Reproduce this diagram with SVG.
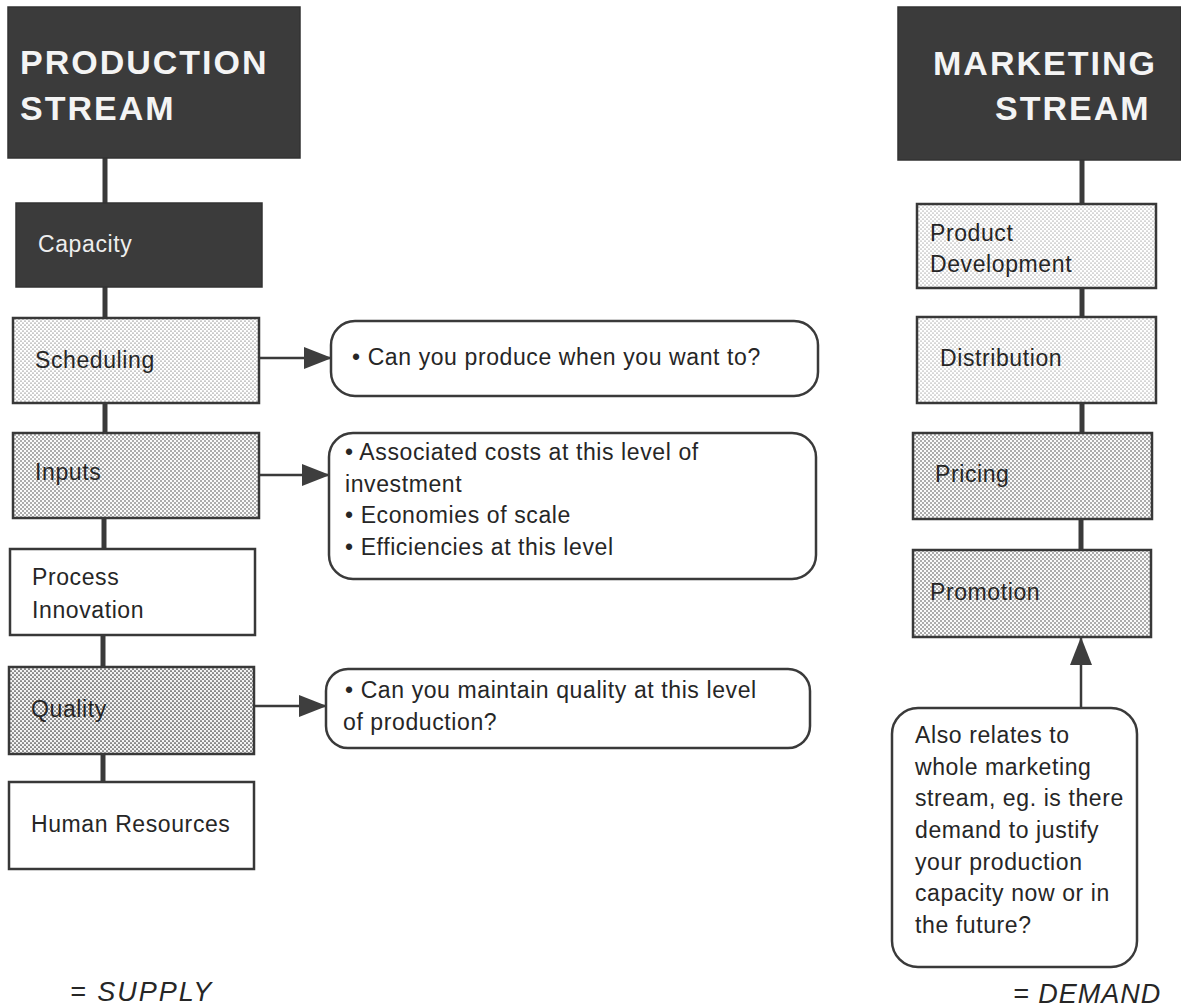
<svg xmlns="http://www.w3.org/2000/svg" width="1181" height="1007" viewBox="0 0 1181 1007">
  <style>
    text { font-family: "Liberation Sans", Arial, sans-serif; fill: #262626; }
    .head { font-size: 34px; font-weight: bold; fill: #f4f4f4; letter-spacing: 2px; }
    .lbl { font-size: 23px; letter-spacing: 0.6px; }
    .lbl-inv { font-size: 23px; letter-spacing: 0.6px; fill: #eeeeee; }
    .note { font-size: 23px; letter-spacing: 0.6px; }
    .foot { font-size: 27px; font-style: italic; letter-spacing: 2px; }
    .dark { fill: #3b3b3b; stroke: #333; stroke-width: 1.5; }
    .box { stroke: #383838; stroke-width: 2.5; }
    .call { fill: #ffffff; stroke: #3a3a3a; stroke-width: 2.5; }
    .trunk { stroke: #3a3a3a; stroke-width: 5; fill: none; }
    .link { stroke: #3a3a3a; stroke-width: 2.5; fill: none; }
  </style>
  <defs>
    <!-- halftone stipples, lightest to darkest -->
    <pattern id="dots-xl" width="4" height="4" patternUnits="userSpaceOnUse">
      <rect width="4" height="4" fill="#ffffff"/>
      <circle cx="1" cy="1" r="0.5" fill="#444"/>
      <circle cx="3" cy="3" r="0.5" fill="#444"/>
    </pattern>
    <pattern id="dots-l" width="4" height="4" patternUnits="userSpaceOnUse">
      <rect width="4" height="4" fill="#ffffff"/>
      <circle cx="1" cy="1" r="0.62" fill="#3c3c3c"/>
      <circle cx="3" cy="3" r="0.62" fill="#3c3c3c"/>
    </pattern>
    <pattern id="dots-m" width="4" height="4" patternUnits="userSpaceOnUse">
      <rect width="4" height="4" fill="#fafafa"/>
      <circle cx="1" cy="1" r="0.75" fill="#383838"/>
      <circle cx="3" cy="3" r="0.75" fill="#383838"/>
    </pattern>
    <pattern id="dots-d" width="4" height="4" patternUnits="userSpaceOnUse">
      <rect width="4" height="4" fill="#f4f4f4"/>
      <circle cx="1" cy="1" r="0.85" fill="#333"/>
      <circle cx="3" cy="3" r="0.85" fill="#333"/>
    </pattern>
    <marker id="tri" viewBox="0 0 28 22" refX="27" refY="11" markerWidth="28" markerHeight="22" markerUnits="userSpaceOnUse" orient="auto">
      <path d="M0,0 L28,11 L0,22 Z" fill="#3e3e3e"/>
    </marker>
  </defs>

  <!-- connectors -->
  <g id="connectors">
    <line class="trunk" x1="105" y1="158" x2="105" y2="203"/>
    <line class="trunk" x1="105" y1="287" x2="105" y2="318"/>
    <line class="trunk" x1="105" y1="403" x2="105" y2="433"/>
    <line class="trunk" x1="104" y1="518" x2="104" y2="549"/>
    <line class="trunk" x1="103" y1="635" x2="103" y2="667"/>
    <line class="trunk" x1="103" y1="754" x2="103" y2="782"/>

    <line class="trunk" x1="1082" y1="159" x2="1082" y2="204"/>
    <line class="trunk" x1="1082" y1="288" x2="1082" y2="317"/>
    <line class="trunk" x1="1082" y1="403" x2="1082" y2="433"/>
    <line class="trunk" x1="1081" y1="519" x2="1081" y2="550"/>

    <line class="link" x1="259" y1="358" x2="331" y2="358" marker-end="url(#tri)"/>
    <line class="link" x1="259" y1="475" x2="329" y2="475" marker-end="url(#tri)"/>
    <line class="link" x1="254" y1="706" x2="326" y2="706" marker-end="url(#tri)"/>
    <line class="link" x1="1081" y1="708" x2="1081" y2="638" marker-end="url(#tri)"/>
  </g>

  <!-- production stream -->
  <g id="production-header">
    <rect class="dark" x="8" y="7" width="292" height="151"/>
    <text class="head" x="20" y="74">PRODUCTION</text>
    <text class="head" x="20" y="120">STREAM</text>
  </g>
  <g id="capacity">
    <rect class="dark" x="16" y="203" width="246" height="84"/>
    <text class="lbl-inv" x="38" y="252">Capacity</text>
  </g>
  <g id="scheduling">
    <rect class="box" fill="url(#dots-l)" x="13" y="318" width="246" height="85"/>
    <text class="lbl" x="35" y="368">Scheduling</text>
  </g>
  <g id="inputs">
    <rect class="box" fill="url(#dots-m)" x="13" y="433" width="246" height="85"/>
    <text class="lbl" x="35" y="480">Inputs</text>
  </g>
  <g id="process-innovation">
    <rect class="box" fill="#ffffff" x="10" y="549" width="245" height="86"/>
    <text class="lbl" x="32" y="585">Process</text>
    <text class="lbl" x="32" y="618">Innovation</text>
  </g>
  <g id="quality">
    <rect class="box" fill="url(#dots-d)" x="9" y="667" width="245" height="87"/>
    <text class="lbl" x="31" y="717">Quality</text>
  </g>
  <g id="human-resources">
    <rect class="box" fill="#ffffff" x="9" y="782" width="245" height="87"/>
    <text class="lbl" x="31" y="832">Human Resources</text>
  </g>
  <g id="supply">
    <text class="foot" x="70" y="1001">= SUPPLY</text>
  </g>

  <!-- callouts -->
  <g id="note-scheduling">
    <rect class="call" x="331" y="321" width="487" height="75" rx="24"/>
    <text class="note" x="352" y="365">• Can you produce when you want to?</text>
  </g>
  <g id="note-inputs">
    <rect class="call" x="329" y="433" width="487" height="146" rx="24"/>
    <text class="note" x="345" y="460">• Associated costs at this level of</text>
    <text class="note" x="345" y="492">investment</text>
    <text class="note" x="345" y="523">• Economies of scale</text>
    <text class="note" x="345" y="555">• Efficiencies at this level</text>
  </g>
  <g id="note-quality">
    <rect class="call" x="326" y="669" width="484" height="79" rx="22"/>
    <text class="note" x="345" y="698">• Can you maintain quality at this level</text>
    <text class="note" x="343" y="730">of production?</text>
  </g>

  <!-- marketing stream -->
  <g id="marketing-header">
    <rect class="dark" x="898" y="7" width="283" height="153"/>
    <text class="head" x="933" y="75">MARKETING</text>
    <text class="head" x="995" y="120">STREAM</text>
  </g>
  <g id="product-development">
    <rect class="box" fill="url(#dots-xl)" x="917" y="204" width="239" height="84"/>
    <text class="lbl" x="930" y="241">Product</text>
    <text class="lbl" x="930" y="272">Development</text>
  </g>
  <g id="distribution">
    <rect class="box" fill="url(#dots-xl)" x="917" y="317" width="239" height="86"/>
    <text class="lbl" x="940" y="366">Distribution</text>
  </g>
  <g id="pricing">
    <rect class="box" fill="url(#dots-m)" x="913" y="433" width="239" height="86"/>
    <text class="lbl" x="935" y="482">Pricing</text>
  </g>
  <g id="promotion">
    <rect class="box" fill="url(#dots-m)" x="913" y="550" width="238" height="87"/>
    <text class="lbl" x="930" y="600">Promotion</text>
  </g>
  <g id="note-demand">
    <rect class="call" x="892" y="708" width="245" height="259" rx="26"/>
    <text class="note" x="915" y="743">Also relates to</text>
    <text class="note" x="915" y="775">whole marketing</text>
    <text class="note" x="915" y="806">stream, eg. is there</text>
    <text class="note" x="915" y="838">demand to justify</text>
    <text class="note" x="915" y="870">your production</text>
    <text class="note" x="915" y="901">capacity now or in</text>
    <text class="note" x="915" y="933">the future?</text>
  </g>
  <g id="demand">
    <text class="foot" x="1013" y="1003" style="letter-spacing: 1px">= DEMAND</text>
  </g>
</svg>
